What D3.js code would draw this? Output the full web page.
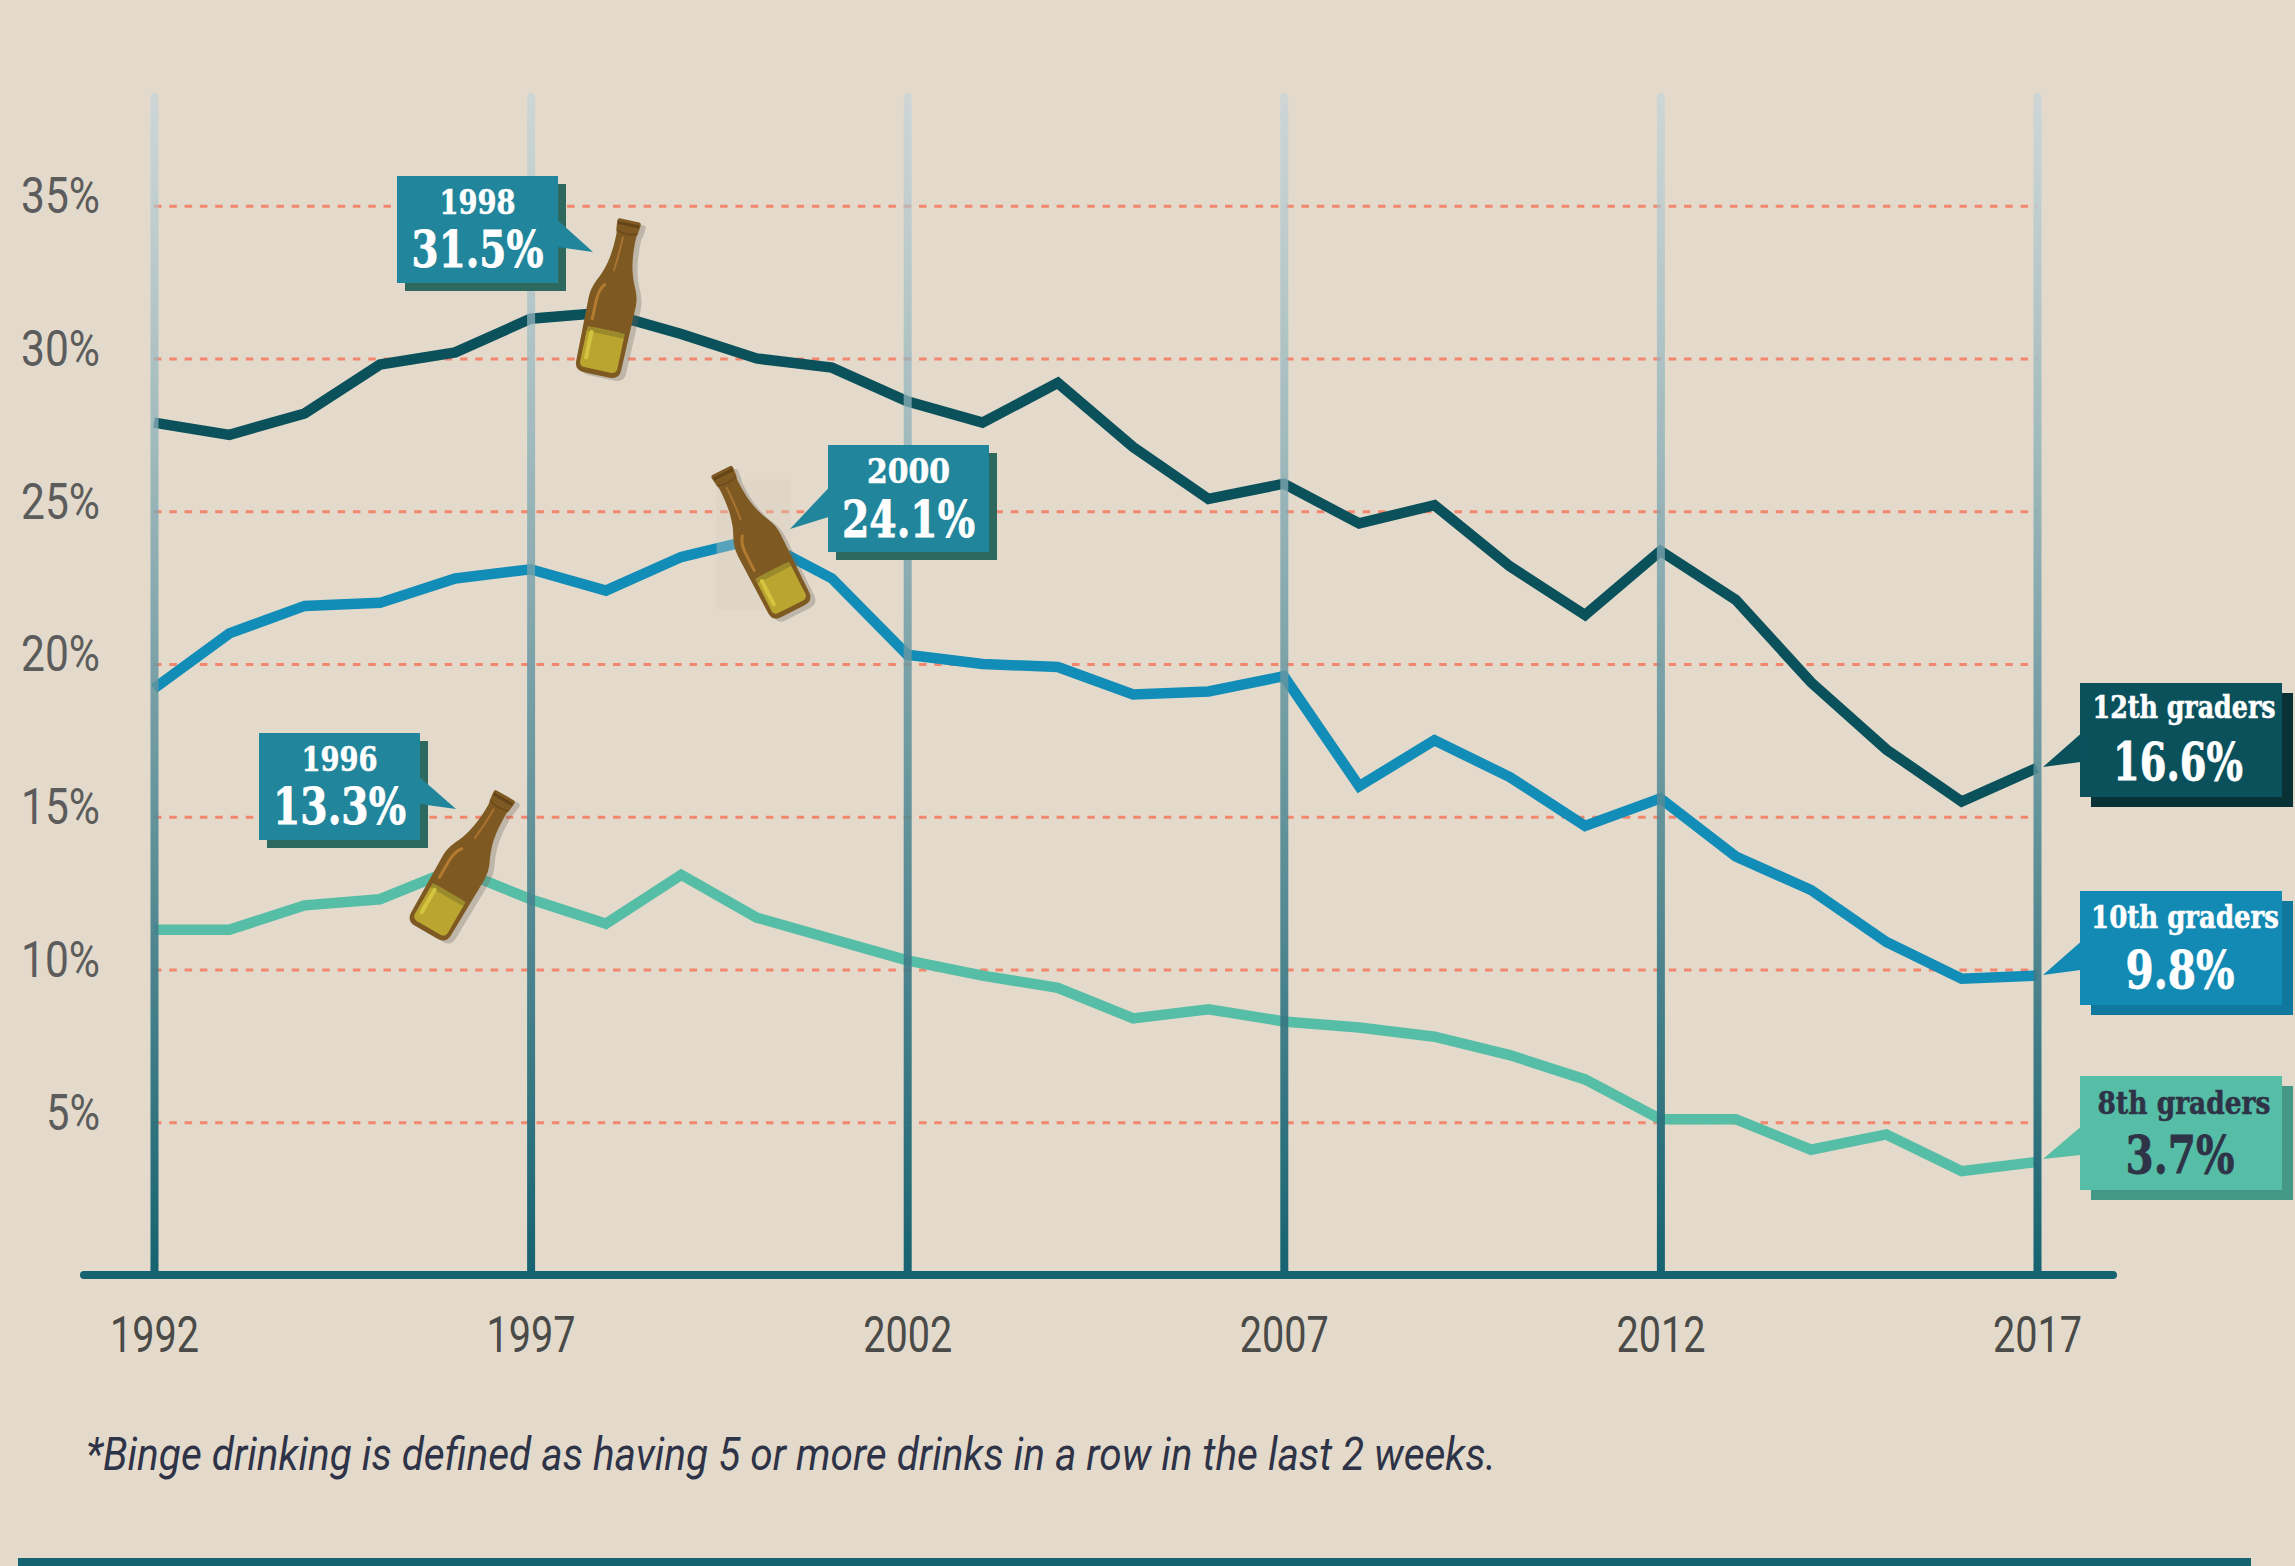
<!DOCTYPE html>
<html>
<head>
<meta charset="utf-8">
<script src="https://cdn.jsdelivr.net/npm/d3@7"></script>
<style>
  html, body { margin: 0; padding: 0; background: #e3dacb; }
  svg { display: block; }
  .slab { font-family: "DejaVu Serif", serif; font-weight: bold; }
  .cond { font-family: Roboto, sans-serif; }
</style>
</head>
<body>
<div id="chart"></div>
<script>
// values
var years = d3.range(1992, 2018);
var grade12 = [27.9, 27.5, 28.2, 29.8, 30.2, 31.3, 31.5, 30.8, 30.0, 29.7, 28.6, 27.9, 29.2,
  27.1, 25.4, 25.9, 24.6, 25.2, 23.2, 21.6, 23.7, 22.1, 19.4, 17.2, 15.5, 16.6];
var grade10 = [19.2, 21.0, 21.9, 22.0, 22.8, 23.1, 22.4, 23.5, 24.1, 22.8, 20.3, 20.0, 19.9,
  19.0, 19.1, 19.6, 16.0, 17.5, 16.3, 14.7, 15.6, 13.7, 12.6, 10.9, 9.7, 9.8];
var grade8 = [11.3, 11.3, 12.1, 12.3, 13.3, 12.3, 11.5, 13.1, 11.7, 11.0, 10.3, 9.8, 9.4,
  8.4, 8.7, 8.3, 8.1, 7.8, 7.2, 6.4, 5.1, 5.1, 4.1, 4.6, 3.4, 3.7];

var year_ticks = [1992, 1997, 2002, 2007, 2012, 2017];
var pct_ticks = [5, 10, 15, 20, 25, 30, 35];
var footnote = '*Binge drinking is defined as having 5 or more drinks in a row in the last 2 weeks.';

var chart_width = 2295;
var chart_height = 1566;
var top_y = 97;
var base_y = 1275;

var svg = d3.select('#chart')
  .append('svg')
  .attr('width', chart_width)
  .attr('height', chart_height);

svg.append('rect')
  .attr('width', chart_width)
  .attr('height', chart_height)
  .attr('fill', '#e3dacb');

// scales
var x_scale = d3.scaleLinear().domain([1992, 2017]).range([154, 2037]);
var y_scale = d3.scaleLinear().domain([0, 35]).range([base_y, 205.7]);

// gradient for the year lines, fades out to the top
var grad = svg.append('defs').append('linearGradient')
  .attr('id', 'year-line')
  .attr('gradientUnits', 'userSpaceOnUse')
  .attr('x1', 0).attr('x2', 0)
  .attr('y1', top_y - base_y).attr('y2', 0);
grad.append('stop').attr('offset', '0%').attr('stop-color', '#bfd3dc').attr('stop-opacity', 0.6);
grad.append('stop').attr('offset', '50%').attr('stop-color', '#64959f').attr('stop-opacity', 0.85);
grad.append('stop').attr('offset', '100%').attr('stop-color', '#156270').attr('stop-opacity', 1);

// make the text fit the width it has in the picture (no condensed fonts here)
function fit(sel, w) {
  sel.attr('textLength', w).attr('lengthAdjust', 'spacingAndGlyphs');
}

// same idea for the callouts, squeezed with a transform around the text centre
function squeeze(sel, cx, y, w) {
  var len = sel.node().getComputedTextLength();
  sel.attr('transform', 'translate(' + cx + ',' + y + ') scale(' + (w / len) + ',1)');
}

// y axis, ticks are the dashed grid
var y_axis = d3.axisLeft(y_scale)
  .tickValues(pct_ticks)
  .tickFormat(function(d) { return d + '%'; })
  .tickSize(-(x_scale(2017) - x_scale(1992)))
  .tickPadding(54);
var y_g = svg.append('g')
  .attr('class', 'y-axis')
  .attr('transform', 'translate(' + x_scale(1992) + ',0)')
  .call(y_axis);
y_g.select('.domain').remove();
y_g.selectAll('line')
  .attr('stroke', '#f2866e')
  .attr('stroke-width', 3)
  .attr('stroke-dasharray', '7.5 7.8');
y_g.selectAll('text')
  .attr('class', 'cond')
  .attr('font-size', 50)
  .attr('font-weight', 400)
  .attr('fill', '#5c5c5c')
  .attr('dy', 7)
  .each(function(d) {
    d3.select(this).call(fit, d < 10 ? 54 : 79);
  });

// series
var line = d3.line()
  .x(function(d, i) { return x_scale(years[i]); })
  .y(function(d) { return y_scale(d); });

var series = [
  { values: grade12, color: '#0b515c' },
  { values: grade10, color: '#128db8' },
  { values: grade8, color: '#56bea6' }
];

svg.append('g')
  .selectAll('path')
  .data(series)
  .enter()
  .append('path')
  .attr('d', function(d) { return line(d.values); })
  .attr('fill', 'none')
  .attr('stroke', function(d) { return d.color; })
  .attr('stroke-width', 10.5)
  .attr('stroke-linejoin', 'miter');

// x axis, ticks are the tall year lines and sit on top of the series
var x_axis = d3.axisBottom(x_scale)
  .tickValues(year_ticks)
  .tickFormat(d3.format('d'))
  .tickSize(-(base_y - top_y))
  .tickPadding(40);
var x_g = svg.append('g')
  .attr('class', 'x-axis')
  .attr('transform', 'translate(0,' + base_y + ')')
  .call(x_axis);
x_g.select('.domain').remove();
x_g.selectAll('line')
  .attr('stroke', 'url(#year-line)')
  .attr('stroke-width', 8)
  .attr('stroke-linecap', 'round');
x_g.selectAll('text')
  .attr('class', 'cond')
  .attr('font-size', 50)
  .attr('font-weight', 400)
  .attr('fill', '#4a4a48')
  .attr('y', 77)
  .attr('dy', 0)
  .call(fit, 89);

// base line
svg.append('line')
  .attr('x1', 84).attr('x2', 2113)
  .attr('y1', base_y).attr('y2', base_y)
  .attr('stroke', '#156270')
  .attr('stroke-width', 8)
  .attr('stroke-linecap', 'round');

// bottles, drawn around 0,0 standing upright
var bottle_path = 'M-10,-80 L10,-80 Q12,-80 12,-77 L11,-68 Q10,-66 10,-64 C10,-50 11,-38 15,-26 ' +
  'C18,-16 24,-10 24,4 L23,68 Q23,78 13,78 L-13,78 Q-23,78 -23,68 L-24,4 C-24,-10 -18,-16 -15,-26 ' +
  'C-11,-38 -10,-50 -10,-64 Q-10,-66 -11,-68 L-12,-77 Q-12,-80 -10,-80 Z';

function draw_bottle(cx, cy, angle) {
  svg.append('path')
    .attr('d', bottle_path)
    .attr('transform', 'translate(' + (cx + 5) + ',' + (cy + 3) + ') rotate(' + angle + ')')
    .attr('fill', '#6b6258')
    .attr('opacity', 0.3);
  var g = svg.append('g')
    .attr('transform', 'translate(' + cx + ',' + cy + ') rotate(' + angle + ')');
  g.append('path').attr('d', bottle_path).attr('fill', '#7f5922');
  g.append('path')
    .attr('d', 'M-11,-77 L11,-77 L10.5,-74 L-10.5,-74 Z')
    .attr('fill', '#654518');
  g.append('path')
    .attr('d', 'M-10,-68 Q0,-64 10,-68')
    .attr('fill', 'none').attr('stroke', '#6a4a1c').attr('stroke-width', 1.5);
  g.append('rect')
    .attr('x', -19).attr('y', 32)
    .attr('width', 38).attr('height', 41)
    .attr('rx', 5)
    .attr('fill', '#b9a52f');
  g.append('rect')
    .attr('x', -19).attr('y', 32)
    .attr('width', 38).attr('height', 5)
    .attr('fill', '#9a8a2c');
  g.append('rect')
    .attr('x', -16).attr('y', 35)
    .attr('width', 4).attr('height', 30)
    .attr('rx', 2)
    .attr('fill', '#d3c53f');
  g.append('path')
    .attr('d', 'M-16,24 L-16,6 Q-16,-6 -11,-12')
    .attr('fill', 'none').attr('stroke', '#b27b2f').attr('stroke-width', 3).attr('stroke-linecap', 'round');
  g.append('path')
    .attr('d', 'M-5,-28 Q-3,-45 -3,-62')
    .attr('fill', 'none').attr('stroke', '#a87430').attr('stroke-width', 2).attr('stroke-linecap', 'round');
}

// callout box, with pointer given as [y start, tip x, tip y, y end] and two lines of text
function draw_box(o) {
  var g = svg.append('g');
  g.append('rect')
    .attr('x', o.x + o.off[0]).attr('y', o.y + o.off[1])
    .attr('width', o.w).attr('height', o.h)
    .attr('fill', o.shadow);
  g.append('rect')
    .attr('x', o.x).attr('y', o.y)
    .attr('width', o.w).attr('height', o.h)
    .attr('fill', o.fill);
  var side = o.pointer[1] < o.x ? o.x + 0.5 : o.x + o.w - 0.5;
  g.append('polygon')
    .attr('points', [
      [side, o.pointer[0]],
      [o.pointer[1], o.pointer[2]],
      [side, o.pointer[3]]
    ].join(' '))
    .attr('fill', o.fill);
  g.append('text')
    .attr('class', 'slab')
    .attr('text-anchor', 'middle')
    .attr('font-size', o.line1[1])
    .attr('fill', o.ink)
    .attr('stroke', o.ink)
    .attr('stroke-width', 0.6)
    .text(o.top)
    .call(squeeze, o.x + o.w / 2 + (o.nudge1 || 0), o.y + o.line1[0], o.line1[2]);
  g.append('text')
    .attr('class', 'slab')
    .attr('text-anchor', 'middle')
    .attr('font-size', o.line2[1])
    .attr('fill', o.ink)
    .attr('stroke', o.ink)
    .attr('stroke-width', 0.8)
    .text(o.bottom)
    .call(squeeze, o.x + o.w / 2 + (o.nudge || 0), o.y + o.line2[0], o.line2[2]);
}

// faint square that sits behind the 2000 bottle
svg.append('rect')
  .attr('x', x_scale(2000) - 40)
  .attr('y', y_scale(24.1) - 59)
  .attr('width', 74)
  .attr('height', 130)
  .attr('fill', '#d8cfbf')
  .attr('opacity', 0.35);

draw_bottle(x_scale(1998) + 7, y_scale(31.5) - 14, 12);
draw_bottle(x_scale(2000) + 1, y_scale(24.1) + 3, -27);
draw_bottle(x_scale(1996) + 10, y_scale(13.3) - 4, 30);

// peak callouts
var peak_fill = '#21859b';
var peak_shadow = '#2d695f';
draw_box({ x: 397, y: 176, w: 161, h: 107, off: [8, 8], fill: peak_fill, shadow: peak_shadow, ink: '#fff',
  pointer: [220, 593, 252, 247], top: '1998', bottom: '31.5%', line1: [38, 34, 76], line2: [91, 50, 132] });
draw_box({ x: 828, y: 445, w: 161, h: 107, off: [8, 8], fill: peak_fill, shadow: peak_shadow, ink: '#fff',
  pointer: [488, 790, 529, 517], top: '2000', bottom: '24.1%', line1: [38, 34, 83], line2: [92, 50, 133] });
draw_box({ x: 259, y: 733, w: 161, h: 107, off: [8, 8], fill: peak_fill, shadow: peak_shadow, ink: '#fff',
  pointer: [777, 456, 809, 804], top: '1996', bottom: '13.3%', line1: [38, 34, 76], line2: [91, 50, 133] });

// series labels at the right
draw_box({ x: 2080, y: 683, w: 202, h: 114, off: [11, 10], fill: '#0b515c', shadow: '#093237', ink: '#fff',
  pointer: [734, 2043, 767, 762], top: '12th graders', bottom: '16.6%', line1: [35, 32, 183], line2: [97, 52, 130], nudge1: 3, nudge: -3 });
draw_box({ x: 2080, y: 891, w: 202, h: 114, off: [11, 10], fill: '#128ab4', shadow: '#10789c', ink: '#fff',
  pointer: [942, 2043, 975, 970], top: '10th graders', bottom: '9.8%', line1: [37, 32, 188], line2: [97, 52, 109], nudge1: 4, nudge: -1 });
draw_box({ x: 2080, y: 1076, w: 202, h: 114, off: [11, 10], fill: '#56bea6', shadow: '#459886', ink: '#2e3347',
  pointer: [1127, 2043, 1159, 1155], top: '8th graders', bottom: '3.7%', line1: [38, 32, 173], line2: [97, 52, 109], nudge1: 3, nudge: -1 });

// footnote
svg.append('text')
  .attr('class', 'cond')
  .attr('x', 86)
  .attr('y', 1470)
  .attr('font-size', 47)
  .attr('font-style', 'italic')
  .attr('fill', '#2e3347')
  .text(footnote)
  .call(fit, 1410);

// band at the bottom
svg.append('rect')
  .attr('x', 18)
  .attr('y', 1558)
  .attr('width', 2233)
  .attr('height', 8)
  .attr('fill', '#156270');
</script>
</body>
</html>
